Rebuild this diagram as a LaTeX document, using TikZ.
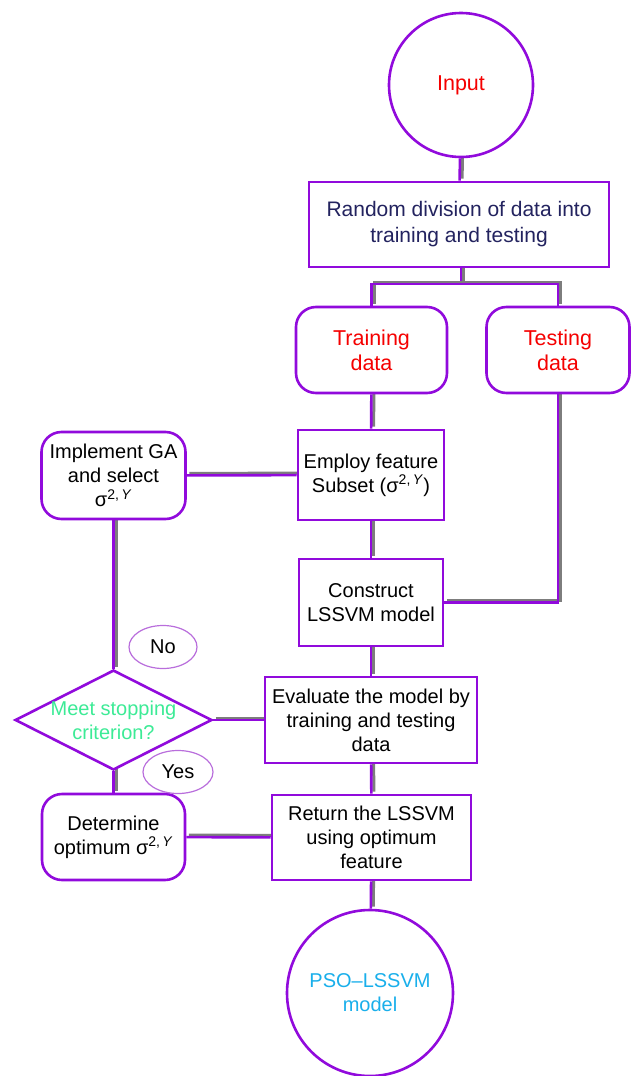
\documentclass[tikz,border=0pt]{standalone}
\usepackage{fontspec}
\setmainfont{Liberation Sans}
\usetikzlibrary{shapes.geometric,backgrounds}
\definecolor{pur}{RGB}{145,10,220}
\definecolor{lpur}{RGB}{185,110,220}
\definecolor{shad}{RGB}{125,125,125}
\definecolor{navy}{RGB}{35,35,95}
\definecolor{mint}{RGB}{60,235,150}
\definecolor{cyanb}{RGB}{25,175,235}
\definecolor{redt}{RGB}{245,0,0}
\tikzset{
  base/.style={draw=pur, line width=2.6pt, fill=white, align=center, inner sep=0pt, font=\fontsize{20}{24}\selectfont},
  box/.style={base, rectangle},
  rbox/.style={base, rectangle, rounded corners=20pt},
  circ/.style={base, circle},
  dia/.style={base, diamond},
  bigred/.style={text=redt, font=\fontsize{21.5}{25}\selectfont},
  tag/.style={draw=lpur, line width=1.2pt, ellipse, fill=white, inner sep=0pt, font=\fontsize{20}{24}\selectfont},
  conn/.style={draw=pur, line width=2.6pt,
    preaction={draw=shad, line width=3pt, transform canvas={xshift=2.5pt, yshift=2pt}}},
}
\newcommand{\sig}{σ\textsuperscript{2,\,\textit{Y}}}
\begin{document}
\begin{tikzpicture}[x=1pt,y=-1pt]
\useasboundingbox (0,0) rectangle (635,1076);
\node[circ, minimum size=144pt, bigred] (in) at (461,85) {Input};
\node[box, minimum width=300pt, minimum height=85pt, text=navy, font=\fontsize{21}{26}\selectfont] (rd) at (459,224.5) {Random division of data into\\training and testing};
\node[rbox, minimum width=151pt, minimum height=86pt, bigred] (tr) at (371.5,350) {Training\\data};
\node[rbox, minimum width=143pt, minimum height=86pt, bigred] (te) at (558,350) {Testing\\data};
\node[box, minimum width=146pt, minimum height=90pt] (em) at (371,475) {Employ feature\\Subset (\sig)};
\node[rbox, minimum width=144pt, minimum height=87pt] (ga) at (113.5,475.5) {Implement GA\\and select\\\sig};
\node[box, minimum width=144pt, minimum height=87pt] (co) at (371,602.5) {Construct\\LSSVM model};
\node[box, minimum width=212pt, minimum height=86pt] (ev) at (371,720) {Evaluate the model by\\training and testing\\data};
\node[dia, minimum width=197pt, minimum height=100pt,
  label={[text=mint, align=center, font=\fontsize{20}{24}\selectfont]center:Meet stopping\\criterion?}] (d) at (113.5,720) {};
\node[rbox, minimum width=143pt, minimum height=86pt] (de) at (113.5,837) {Determine\\optimum \sig};
\node[box, minimum width=199pt, minimum height=85pt] (rt) at (371.5,837.5) {Return the LSSVM\\using optimum\\feature};
\node[circ, minimum size=166pt, text=cyanb] (pso) at (370,993) {PSO–LSSVM\\model};
\node[tag, minimum width=68pt, minimum height=43pt] (no) at (163,647) {No};
\node[tag, minimum width=70pt, minimum height=43pt] (yes) at (178,772) {Yes};
\coordinate (j) at (461,284);
\begin{scope}[on background layer]
\draw[conn] (in) -- (rd);
\draw[conn] (rd.south -| j) -- (j);
\draw[conn] (j) -| (tr);
\draw[conn] (j) -| (te);
\draw[conn] (tr) -- (em);
\draw[conn] (ga) -- (em);
\draw[conn] (em) -- (co);
\draw[conn] (te) |- (co);
\draw[conn] (co) -- (ev);
\draw[conn] (d) -- (ev);
\draw[conn] (ga) -- (d);
\draw[conn] (d) -- (de);
\draw[conn] (de) -- (rt);
\draw[conn] (ev) -- (rt);
\draw[conn] (rt) -- (pso);
\end{scope}
\end{tikzpicture}
\end{document}
